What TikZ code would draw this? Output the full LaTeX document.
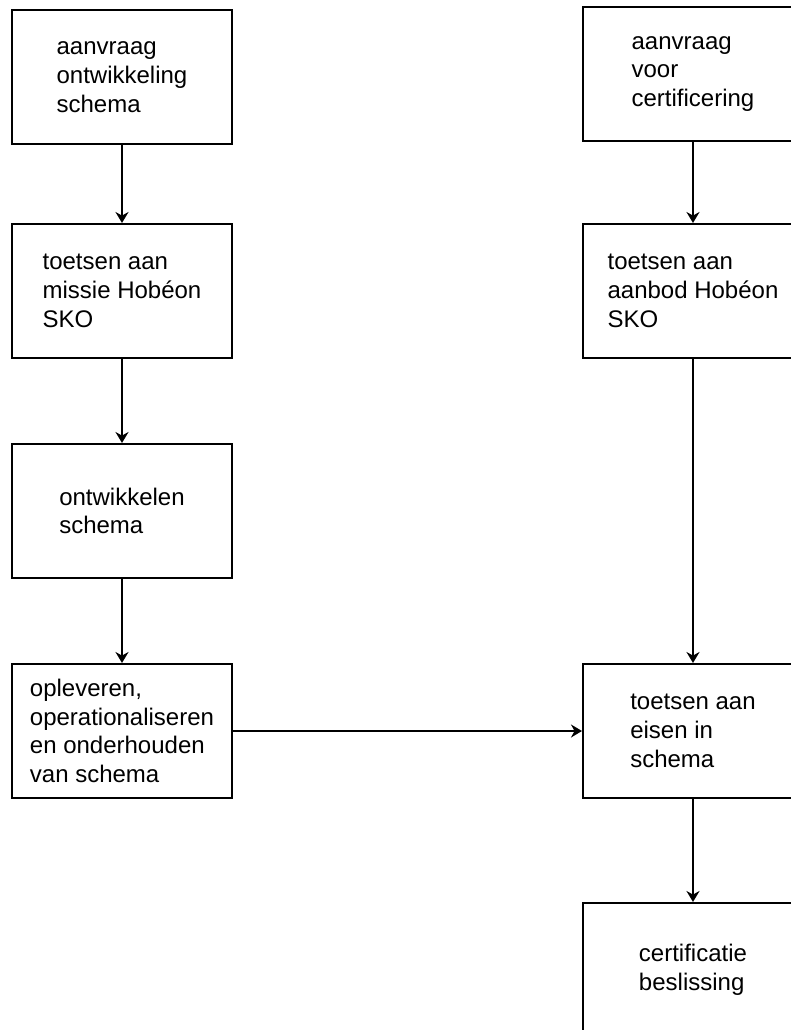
\documentclass[tikz,border=0pt]{standalone}
\usepackage{fontspec}
\setmainfont{Liberation Sans}
\usepackage{tikz}
\usetikzlibrary{arrows.meta, positioning}

\begin{document}
\begin{tikzpicture}[x=0.5pt, y=-0.5pt,
  font=\fontsize{12}{14.4}\selectfont,
  stage/.style={draw, line width=1pt, align=left, inner sep=0pt,
    minimum width=110pt, minimum height=67pt},
  p/.style={-{Stealth[length=5.5pt, width=6.5pt, inset=1.8pt]}, line width=1pt}]
\useasboundingbox (0,0) rectangle (791,1030);
\clip (0,0) rectangle (791,1030);
% left column: schema development
\node[stage] (dev1) at (122,77) {aanvraag\\ontwikkeling\\schema};
\node[stage] (dev2) at (122,291) {toetsen aan\\missie Hobéon\\SKO};
\node[stage] (dev3) at (122,511) {ontwikkelen\\schema};
\node[stage] (dev4) at (122,731) {opleveren,\\operationaliseren\\en onderhouden\\van schema};
% right column: certification
\node[stage] (cert1) at (693,74) {aanvraag\\voor\\certificering};
\node[stage] (cert2) at (693,291) {toetsen aan\\aanbod Hobéon\\SKO};
\node[stage] (cert3) at (693,731) {toetsen aan\\eisen in\\schema};
\node[stage] (cert4) at (693,970) {certificatie\\beslissing};
\draw[p] (dev1) -- (dev2);
\draw[p] (dev2) -- (dev3);
\draw[p] (dev3) -- (dev4);
\draw[p] (dev4) -- (cert3);
\draw[p] (cert1) -- (cert2);
\draw[p] (cert2) -- (cert3);
\draw[p] (cert3) -- (cert4);
\end{tikzpicture}
\end{document}
